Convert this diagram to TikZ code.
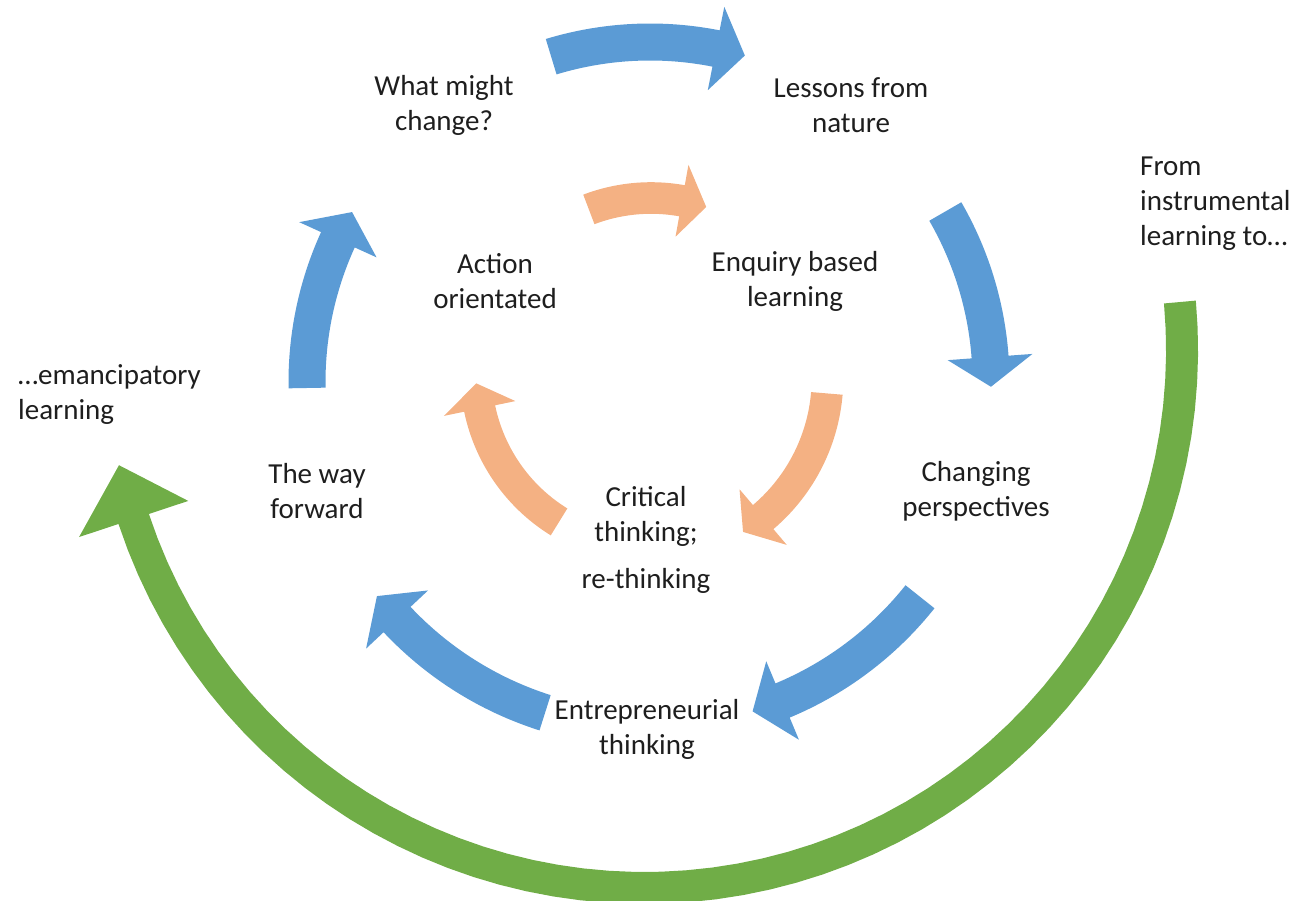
\documentclass[tikz,border=0pt]{standalone}
\usepackage{fontspec}
\setmainfont{Carlito}
\definecolor{cblue}{HTML}{5B9BD5}
\definecolor{corange}{HTML}{F4B183}
\definecolor{cgreen}{HTML}{70AD47}
\definecolor{txt}{HTML}{1E1E1E}
% curved block arrow: color, cx, cy, R, start angle, head base angle, tip angle, half shaft, half head
\newcommand\cbarrow[9]{%
  \fill[#1] plot[domain=#5:#6,samples=60] ({#2+(#4+#8)*cos(\x)},{#3+(#4+#8)*sin(\x)})
    -- ({#2+(#4+#9)*cos(#6)},{#3+(#4+#9)*sin(#6)})
    -- ({#2+#4*cos(#7)},{#3+#4*sin(#7)})
    -- ({#2+(#4-#9)*cos(#6)},{#3+(#4-#9)*sin(#6)})
    -- plot[domain=#6:#5,samples=60] ({#2+(#4-#8)*cos(\x)},{#3+(#4-#8)*sin(\x)})
    -- cycle;}
\begin{document}
\begin{tikzpicture}[x=1pt,y=-1pt,
  lbl/.style={text=txt, align=center, inner sep=0pt, font=\fontsize{29}{35}\selectfont},
  lbll/.style={lbl, align=left, anchor=west}]
\useasboundingbox (0,0) rectangle (1301,900);
\clip (0,0) rectangle (1301,900);
% green outer arrow
\cbarrow{cgreen}{644.3}{350.2}{537.8}{354.86}{521.71}{527.65}{16}{57.5}
% blue ring
\cbarrow{cblue}{650}{382}{340}{253.1}{281.2}{286.2}{18.5}{42.5}
\cbarrow{cblue}{650}{382}{341}{330}{355.8}{360.8}{18.5}{42.5}
\cbarrow{cblue}{650}{382}{345}{38.5}{67.4}{72.7}{18.5}{42.5}
\cbarrow{cblue}{650}{382}{347}{107.6}{136.8}{141.9}{18.5}{42.5}
\cbarrow{cblue}{650}{382}{343}{179}{204.5}{209.7}{18.5}{42.5}
% orange ring
\cbarrow{corange}{651}{373}{175}{249.2}{280.2}{288.4}{15.8}{36.5}
\cbarrow{corange}{645}{378}{182.5}{4.84}{49.65}{57.5}{15.8}{36.5}
\cbarrow{corange}{651}{373}{175}{121.7}{168.3}{176.6}{15.8}{36.5}
% labels
\node[lbl] (what) at (444,105) {What might\\change?};
\node[lbl] (lessons) at (851,105) {Lessons from\\nature};
\node[lbll] (from) at (1140,204) {From\\instrumental\\learning to…};
\node[lbl] (action) at (495,281) {Action\\orientated};
\node[lbl] (enquiry) at (795,281) {Enquiry based\\learning};
\node[lbll] (eman) at (18,395) {…emancipatory\\learning};
\node[lbl] (way) at (317,491) {The way\\forward};
\node[lbl] (changing) at (976,491) {Changing\\perspectives};
\node[lbl] (critical) at (646,540) {Critical\\thinking;\\[12pt]re-thinking};
\node[lbl] (entre) at (647,729) {Entrepreneurial\\thinking};
\end{tikzpicture}
\end{document}
